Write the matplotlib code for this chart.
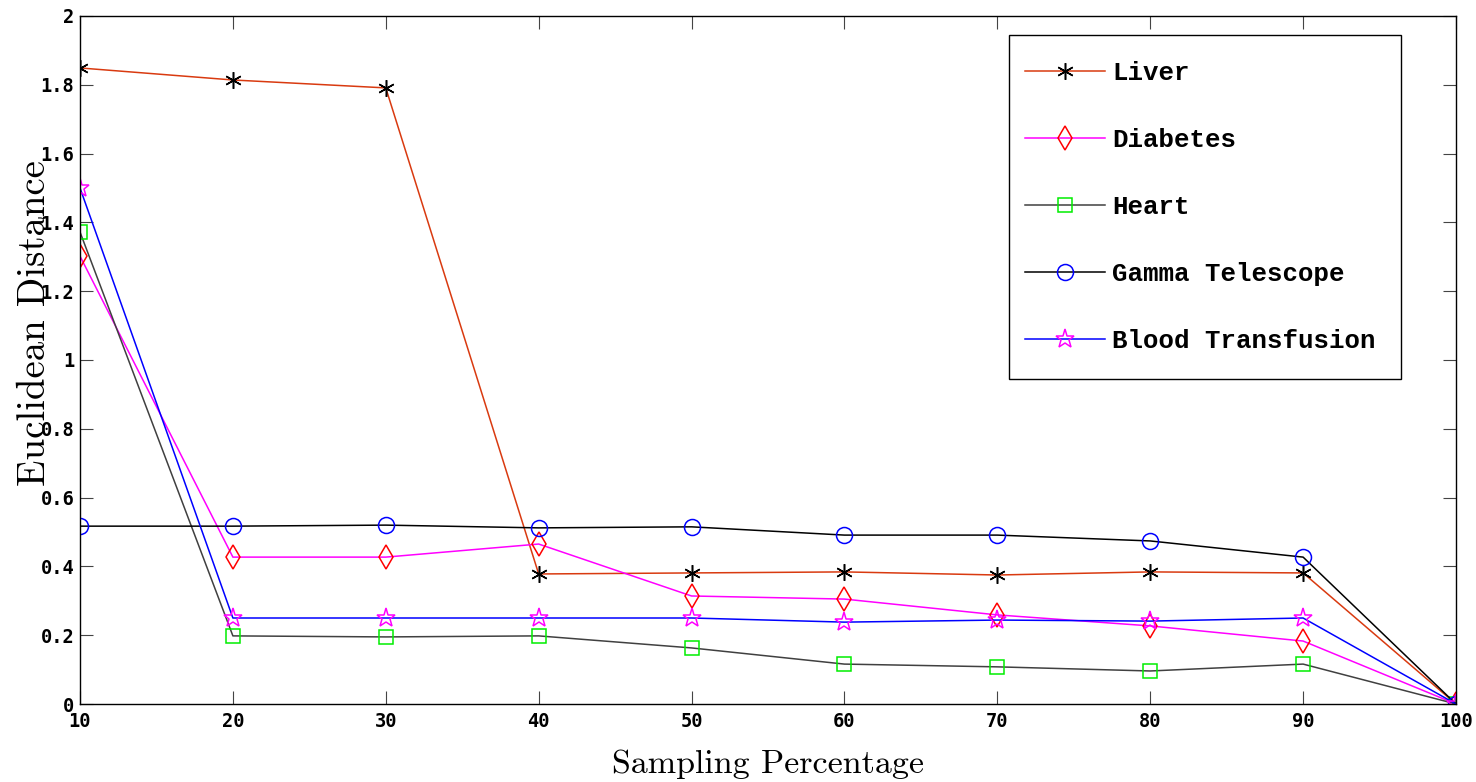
import matplotlib
matplotlib.use("Agg")
import matplotlib.pyplot as plt
from matplotlib.patches import Rectangle

# ---------------------------------------------------------------------------
# Data
# ---------------------------------------------------------------------------
sampling_pct = [10, 20, 30, 40, 50, 60, 70, 80, 90, 100]

liver = [1.849, 1.814, 1.791, 0.378, 0.381, 0.384, 0.375, 0.384, 0.381, 0.0]
diabetes = [1.302, 0.427, 0.427, 0.465, 0.314, 0.305, 0.259, 0.227, 0.183, 0.0]
heart = [1.372, 0.198, 0.195, 0.198, 0.163, 0.116, 0.108, 0.096, 0.116, 0.0]
gamma = [0.517, 0.517, 0.520, 0.512, 0.515, 0.491, 0.491, 0.474, 0.427, 0.0]
blood = [1.500, 0.250, 0.250, 0.250, 0.250, 0.238, 0.244, 0.241, 0.250, 0.0]

series_names = ["Liver", "Diabetes", "Heart", "Gamma Telescope", "Blood Transfusion"]

y_ticks = [0, 0.2, 0.4, 0.6, 0.8, 1, 1.2, 1.4, 1.6, 1.8, 2]
y_tick_labels = ["0", "0.2", "0.4", "0.6", "0.8", "1", "1.2", "1.4", "1.6", "1.8", "2"]

# (line colour, marker, marker colour, marker size) per series
ASTERISK = (6, 2, 0)
styles = [
    ("#d93a10", ASTERISK, "black", 12),
    ("#ff00ff", "d", "red", 12),
    ("#404040", "s", "#00ee00", 9.5),
    ("black", "o", "blue", 11.5),
    ("blue", "*", "#ff00ff", 14),
]

# ---------------------------------------------------------------------------
# Plot
# ---------------------------------------------------------------------------
W, H = 1476, 782
fig = plt.figure(figsize=(W / 100, H / 100), dpi=100)
ax = fig.add_axes([80 / W, 1 - 704 / H, (1456 - 80) / W, (704 - 16) / H])

all_series = [liver, diabetes, heart, gamma, blood]
for vals, name, (lc, mk, mc, ms) in zip(all_series, series_names, styles):
    ax.plot(sampling_pct, vals, color=lc, lw=1.1, marker=mk,
            markersize=ms, markerfacecolor="none",
            markeredgecolor=mc, markeredgewidth=1.1, label=name)

ax.set_xlim(10, 100)
ax.set_ylim(0, 2)
ax.set_xticks(sampling_pct)
ax.set_yticks(y_ticks)
ax.set_yticklabels(y_tick_labels)

for lbl in ax.get_xticklabels() + ax.get_yticklabels():
    lbl.set_fontfamily("DejaVu Sans Mono")
    lbl.set_fontweight("bold")
    lbl.set_fontsize(13.5)

ax.tick_params(direction="in", length=9.5, width=0.8, top=True, right=True,
               color="#444444")
ax.tick_params(axis="x", pad=6)
ax.tick_params(axis="y", pad=4)
for sp in ax.spines.values():
    sp.set_linewidth(1.0)

ax.set_xlabel("Sampling Percentage", family="cmr10", fontsize=24.5, labelpad=13)
ax.set_ylabel("Euclidean Distance", family="cmr10", fontsize=28, labelpad=-9)
ax.yaxis.label.set_y(0.554)   # label sits a bit above the axis centre

# legend frame drawn by hand so the padding matches the reference
ax.add_patch(Rectangle((1009 / W, 1 - 379 / H), (1401 - 1009) / W,
                       (379 - 35) / H, transform=fig.transFigure,
                       facecolor="white", edgecolor="black", lw=1.0,
                       clip_on=False, zorder=4))
leg = ax.legend(loc="upper left",
                bbox_to_anchor=(1025 / W, 1 - 61 / H),
                bbox_transform=fig.transFigure,
                prop=dict(family="Liberation Mono", weight="bold", size=18.5),
                handlelength=3.1, labelspacing=1.67, borderpad=0,
                handletextpad=0.3, frameon=False, borderaxespad=0)
leg.set_zorder(5)

fig.savefig("out.png", dpi=100)
